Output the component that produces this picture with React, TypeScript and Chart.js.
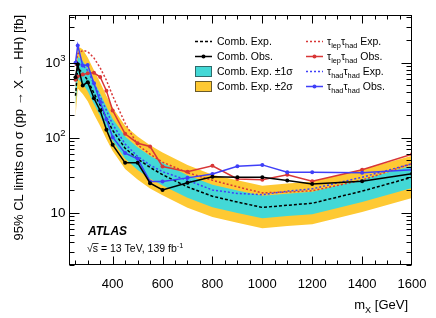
import React, { useEffect, useRef } from "react";
import { Chart, registerables } from "chart.js";
Chart.register(...registerables);

const FONT = '"Liberation Sans", Arial, Helvetica, sans-serif';

// resonance masses (GeV)
const massPoints = [251, 260, 280, 300, 325, 350, 375, 400, 450, 500, 550, 600, 700, 800, 900, 1000, 1100, 1200, 1400, 1600];

// combined expected limit and its bands (fb)
const combExp = [360, 850, 720, 580, 390, 270, 180, 125, 72, 52, 40, 32, 22, 16.5, 13.8, 11.7, 12.5, 13.3, 19.3, 29.6];
const combExpPlus1 = [520, 1200, 1050, 830, 560, 385, 257, 178, 103, 74, 57, 46, 31.5, 23.5, 19.7, 16.7, 17.8, 19, 27.5, 42];
const combExpMinus1 = [255, 610, 520, 415, 280, 193, 129, 90, 52, 37, 28.5, 23, 15.8, 11.8, 9.9, 8.4, 9, 9.5, 13.8, 21.2];
const combExpPlus2 = [720, 1650, 1500, 1170, 790, 540, 360, 250, 144, 103, 79, 63, 43, 32, 27, 22.8, 24.4, 26, 37.5, 57];
const combExpMinus2 = [185, 450, 380, 305, 205, 142, 95, 66, 38, 27.5, 21, 17, 11.6, 8.7, 7.3, 6.2, 6.6, 7, 10.2, 15.6];

// combined observed
const combObs = [637, 940, 494, 546, 334, 229, 127, 80, 46, 46, 24.6, 20, 25, 30, 29.6, 29.6, 26.7, 24.1, 26.2, 32.8];

// tau_lep tau_had
const lepHadExp = [900, 1300, 1450, 1400, 1150, 850, 580, 360, 155, 80, 60, 47, 34, 27, 22, 18.3, 18.8, 19.5, 27, 45];
const lepHadObs = [590, 650, 690, 720, 730, 640, 420, 230, 112, 84, 76, 41, 35, 42, 28, 27.4, 31.8, 26.2, 37.3, 60];

// tau_had tau_had
const hadHadExp = [600, 1000, 920, 780, 520, 350, 230, 150, 82, 56, 43, 35, 27, 20, 18, 17.3, 19.3, 20.7, 29.6, 44.7];
const hadHadObs = [990, 1690, 912, 930, 530, 300, 175, 101, 62, 52, 26, 26, 29, 32.6, 41.5, 43.2, 34.4, 34.4, 34, 37.3];

// axes
const xMin = 225;
const xMax = 1600;
const yMin = 2;
const yMax = 4300;
const xTickLabels = [400, 600, 800, 1000, 1200, 1400, 1600];
const xMinorStep = 50;
const yTickValues = [10, 100, 1000];
const yTickLabels = [["10", ""], ["10", "2"], ["10", "3"]];

const YELLOW = "#FEC933";
const CYAN = "#43D8D6";
const RED = "#D83636";
const BLUE = "#3F3FF8";

type Part = { t: string; sub?: boolean; sup?: boolean };

function partsWidth(ctx: CanvasRenderingContext2D, parts: Part[], size: number, style = "") {
  let w = 0;
  for (const p of parts) {
    const s = p.sub || p.sup ? size * 0.7 : size;
    ctx.font = `${style}${s}px ${FONT}`;
    w += ctx.measureText(p.t).width;
  }
  return w;
}

function drawParts(ctx: CanvasRenderingContext2D, parts: Part[], x: number, y: number, size: number, style = "") {
  let cx = x;
  for (const p of parts) {
    const s = p.sub || p.sup ? size * 0.7 : size;
    ctx.font = `${style}${s}px ${FONT}`;
    const dy = p.sub ? size * 0.28 : p.sup ? -size * 0.42 : 0;
    ctx.fillText(p.t, cx, y + dy);
    cx += ctx.measureText(p.t).width;
  }
  return cx;
}

const decorPlugin = {
  id: "decor",
  afterDraw(chart: any) {
    const ctx: CanvasRenderingContext2D = chart.ctx;
    const ca = chart.chartArea;
    const xs = chart.scales.x;
    const ys = chart.scales.y;
    ctx.save();
    const L = Math.round(ca.left) + 0.5;
    const R = Math.round(ca.right) - 0.5;
    const T = Math.round(ca.top) + 0.5;
    const B = Math.round(ca.bottom) - 0.5;
    ctx.strokeStyle = "#000";
    ctx.lineWidth = 1;
    ctx.setLineDash([]);
    ctx.strokeRect(L, T, R - L, B - T);

    ctx.beginPath();
    for (let v = 250; v <= xMax; v += xMinorStep) {
      let px = Math.round(xs.getPixelForValue(v)) + 0.5;
      if (px > R) px = R;
      if (px < L) continue;
      const len = xTickLabels.includes(v) ? 8 : 4;
      ctx.moveTo(px, B);
      ctx.lineTo(px, B - len);
      ctx.moveTo(px, T);
      ctx.lineTo(px, T + len);
    }
    for (const d of [1, 10, 100, 1000]) {
      for (let k = 1; k <= 9; k++) {
        const v = k * d;
        if (v < yMin || v > yMax) continue;
        const py = Math.round(ys.getPixelForValue(v)) + 0.5;
        const len = k === 1 ? 10 : 5;
        ctx.moveTo(L, py);
        ctx.lineTo(L + len, py);
        ctx.moveTo(R, py);
        ctx.lineTo(R - len, py);
      }
    }
    ctx.stroke();

    ctx.fillStyle = "#000";
    // x tick labels
    ctx.font = `13px ${FONT}`;
    ctx.textAlign = "center";
    ctx.textBaseline = "alphabetic";
    for (const v of xTickLabels) {
      const px = xs.getPixelForValue(v);
      ctx.fillText(String(v), px, 288);
    }
    // y tick labels
    ctx.textAlign = "left";
    yTickValues.forEach((v, i) => {
      const py = ys.getPixelForValue(v);
      const [base, sup] = yTickLabels[i];
      ctx.font = `13.5px ${FONT}`;
      const bw = ctx.measureText(base).width;
      ctx.font = `9.5px ${FONT}`;
      const sw = sup ? ctx.measureText(sup).width : 0;
      const x0 = 65.5 - bw - sw;
      ctx.font = `13.5px ${FONT}`;
      ctx.fillText(base, x0, py + 4.8);
      if (sup) {
        ctx.font = `9.5px ${FONT}`;
        ctx.fillText(sup, x0 + bw, py - 1.5);
      }
    });

    // x title
    const xt: Part[] = [{ t: "m" }, { t: "X", sub: true }, { t: " [GeV]" }];
    const xw = partsWidth(ctx, xt, 13);
    drawParts(ctx, xt, 408 - xw, 309, 13);

    // y title
    ctx.save();
    ctx.translate(23, 15);
    ctx.rotate(-Math.PI / 2);
    ctx.font = `13px ${FONT}`;
    ctx.textAlign = "right";
    ctx.textBaseline = "alphabetic";
    ctx.fillText("95% CL limits on σ (pp → X → HH) [fb]", 0, 0);
    ctx.restore();

    // ATLAS label
    ctx.textAlign = "left";
    ctx.font = `italic bold 12px ${FONT}`;
    ctx.fillText("ATLAS", 88, 235);
    // sqrt(s) line
    ctx.font = `10.5px ${FONT}`;
    ctx.fillText("√", 87, 252);
    const rw = ctx.measureText("√").width;
    ctx.fillText("s", 87 + rw, 252);
    const sw = ctx.measureText("s").width;
    ctx.beginPath();
    ctx.lineWidth = 0.8;
    ctx.moveTo(87 + rw - 0.5, 243.5);
    ctx.lineTo(87 + rw + sw + 0.5, 243.5);
    ctx.stroke();
    drawParts(ctx, [{ t: " = 13 TeV, 139 fb" }, { t: "-1", sup: true }], 87 + rw + sw, 252, 10.5);

    // legend
    const rows = [41, 56, 71, 86];
    const fs = 10.5;
    const drawLine = (x0: number, x1: number, y: number, color: string, dash: number[], dot: boolean) => {
      ctx.beginPath();
      ctx.strokeStyle = color;
      ctx.lineWidth = 1.5;
      ctx.setLineDash(dash);
      ctx.moveTo(x0, y + 0.5);
      ctx.lineTo(x1, y + 0.5);
      ctx.stroke();
      ctx.setLineDash([]);
      if (dot) {
        ctx.beginPath();
        ctx.fillStyle = color;
        ctx.arc((x0 + x1) / 2, y + 0.5, 2, 0, Math.PI * 2);
        ctx.fill();
      }
    };
    const c1 = 195, c1e = 212, t1 = 217;
    const c2 = 306, c2e = 323, t2 = 327;
    drawLine(c1, c1e, rows[0], "#000", [3, 2], false);
    drawLine(c1, c1e, rows[1], "#000", [], true);
    ctx.fillStyle = CYAN;
    ctx.fillRect(c1, rows[2] - 5, c1e - c1, 11);
    ctx.strokeStyle = "#2f6a6a";
    ctx.lineWidth = 1;
    ctx.strokeRect(c1 + 0.5, rows[2] - 4.5, c1e - c1 - 1, 10);
    ctx.fillStyle = YELLOW;
    ctx.fillRect(c1, rows[3] - 5, c1e - c1, 11);
    ctx.strokeStyle = "#6a5a2a";
    ctx.strokeRect(c1 + 0.5, rows[3] - 4.5, c1e - c1 - 1, 10);

    drawLine(c2, c2e, rows[0], RED, [2, 2], false);
    drawLine(c2, c2e, rows[1], RED, [], true);
    drawLine(c2, c2e, rows[2], BLUE, [2, 2], false);
    drawLine(c2, c2e, rows[3], BLUE, [], true);

    ctx.fillStyle = "#000";
    const tb = 3.7;
    drawParts(ctx, [{ t: "Comb. Exp." }], t1, rows[0] + tb, fs);
    drawParts(ctx, [{ t: "Comb. Obs." }], t1, rows[1] + tb, fs);
    drawParts(ctx, [{ t: "Comb. Exp. ±1σ" }], t1, rows[2] + tb, fs);
    drawParts(ctx, [{ t: "Comb. Exp. ±2σ" }], t1, rows[3] + tb, fs);
    drawParts(ctx, [{ t: "τ" }, { t: "lep", sub: true }, { t: "τ" }, { t: "had", sub: true }, { t: " Exp." }], t2, rows[0] + tb, fs);
    drawParts(ctx, [{ t: "τ" }, { t: "lep", sub: true }, { t: "τ" }, { t: "had", sub: true }, { t: " Obs." }], t2, rows[1] + tb, fs);
    drawParts(ctx, [{ t: "τ" }, { t: "had", sub: true }, { t: "τ" }, { t: "had", sub: true }, { t: " Exp." }], t2, rows[2] + tb, fs);
    drawParts(ctx, [{ t: "τ" }, { t: "had", sub: true }, { t: "τ" }, { t: "had", sub: true }, { t: " Obs." }], t2, rows[3] + tb, fs);

    ctx.restore();
  },
};

const pts = (vals: number[]) => massPoints.map((m, i) => ({ x: m, y: vals[i] }));

const bandSet = (vals: number[], fillColor: string | null, order: number) => ({
  data: pts(vals),
  borderWidth: 0,
  borderColor: "rgba(0,0,0,0)",
  backgroundColor: fillColor || "rgba(0,0,0,0)",
  pointRadius: 0,
  fill: fillColor ? "+1" : false,
  tension: 0,
  order,
});

const lineSet = (vals: number[], color: string, dash: number[], dots: boolean, order: number) => ({
  data: pts(vals),
  borderColor: color,
  backgroundColor: color,
  borderWidth: 1.5,
  borderDash: dash,
  pointRadius: dots ? 2 : 0,
  pointBorderWidth: 0,
  pointBackgroundColor: color,
  fill: false,
  tension: 0,
  order,
});

export default function App() {
  const ref = useRef<HTMLCanvasElement>(null);
  useEffect(() => {
    document.body.style.margin = "0";
    const chart = new Chart(ref.current!, {
      type: "line",
      data: {
        datasets: [
          bandSet(combExpPlus2, YELLOW, 11),
          bandSet(combExpMinus2, null, 11),
          bandSet(combExpPlus1, CYAN, 10),
          bandSet(combExpMinus1, null, 10),
          lineSet(combExp, "#000", [3, 2], false, 5),
          lineSet(lepHadExp, RED, [2, 2], false, 4),
          lineSet(hadHadExp, BLUE, [2, 2], false, 3),
          lineSet(lepHadObs, RED, [], true, 2),
          lineSet(hadHadObs, BLUE, [], true, 1),
          lineSet(combObs, "#000", [], true, 0),
        ] as any,
      },
      options: {
        animation: false,
        responsive: false,
        devicePixelRatio: 1,
        layout: { padding: { top: 15, right: 24, left: 0, bottom: 0 } },
        plugins: { legend: { display: false }, tooltip: { enabled: false } },
        scales: {
          x: {
            type: "linear",
            min: xMin,
            max: xMax,
            ticks: { display: false },
            grid: { display: false },
            border: { display: false },
            afterFit: (s: any) => {
              s.height = 53;
            },
          },
          y: {
            type: "logarithmic",
            min: yMin,
            max: yMax,
            ticks: { display: false },
            grid: { display: false },
            border: { display: false },
            afterFit: (s: any) => {
              s.width = 69;
            },
          },
        },
      } as any,
      plugins: [decorPlugin],
    });
    return () => chart.destroy();
  }, []);
  return <canvas ref={ref} width={436} height={318} style={{ display: "block", width: 436, height: 318 }} />;
}
